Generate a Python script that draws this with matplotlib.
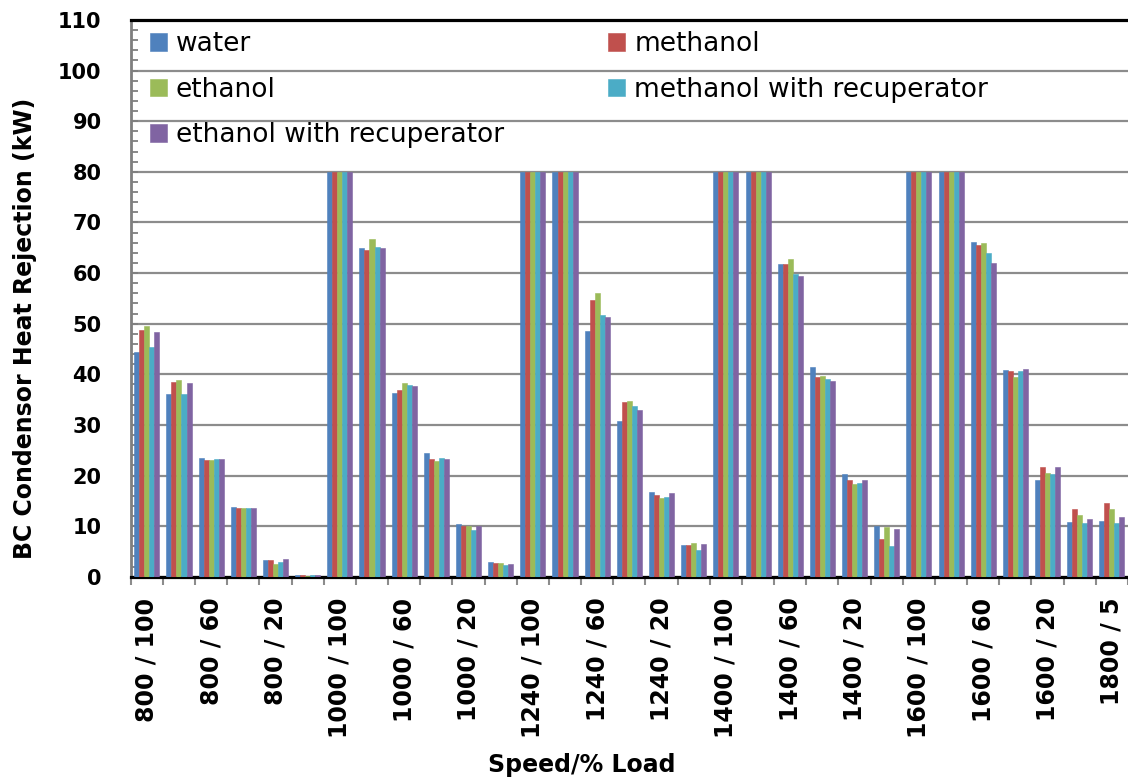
import matplotlib
matplotlib.use("Agg")
import matplotlib.pyplot as plt
import numpy as np

# speed / % load categories (only every second one is labelled on the axis)
categories = [
    "800 / 100", "800 / 80", "800 / 60", "800 / 40", "800 / 20", "800 / 5",
    "1000 / 100", "1000 / 80", "1000 / 60", "1000 / 40", "1000 / 20", "1000 / 5",
    "1240 / 100", "1240 / 80", "1240 / 60", "1240 / 40", "1240 / 20", "1240 / 5",
    "1400 / 100", "1400 / 80", "1400 / 60", "1400 / 40", "1400 / 20", "1400 / 5",
    "1600 / 100", "1600 / 80", "1600 / 60", "1600 / 40", "1600 / 20", "1600 / 10",
    "1800 / 5",
]

water = [44.4, 36.1, 23.45, 13.7, 3.4, 0.3,
         80, 64.9, 36.4, 24.4, 10.4, 3.0,
         80, 80, 48.6, 30.8, 16.8, 6.3,
         80, 80, 61.8, 41.4, 20.2, 10.1,
         80, 80, 66.05, 40.8, 19.2, 10.8,
         11.0]
methanol = [48.7, 38.4, 23.1, 13.5, 3.4, 0.3,
            80, 64.5, 36.9, 23.3, 10.1, 2.8,
            80, 80, 54.7, 34.5, 16.1, 6.2,
            80, 80, 61.8, 39.4, 19.2, 7.4,
            80, 80, 65.5, 40.6, 21.6, 13.4,
            14.6]
ethanol = [49.5, 38.9, 23.05, 13.5, 2.6, 0.2,
           80, 66.8, 38.3, 22.9, 10.1, 2.7,
           80, 80, 56.0, 34.7, 15.6, 6.6,
           80, 80, 62.8, 39.6, 18.4, 9.75,
           80, 80, 65.9, 39.5, 20.4, 12.2,
           13.4]
methanol_rec = [45.4, 36.1, 23.2, 13.5, 3.0, 0.3,
                80, 65.1, 37.9, 23.4, 9.2, 2.4,
                80, 80, 51.7, 33.7, 15.7, 5.3,
                80, 80, 59.9, 39.0, 18.6, 6.0,
                80, 80, 63.9, 40.7, 20.3, 10.7,
                10.6]
ethanol_rec = [48.4, 38.2, 23.2, 13.5, 3.56, 0.3,
               80, 64.9, 37.7, 23.2, 10.1, 2.6,
               80, 80, 51.3, 32.9, 16.5, 6.4,
               80, 80, 59.4, 38.6, 19.1, 9.5,
               80, 80, 62.0, 41.1, 21.7, 11.5,
               11.85]

series = [
    ("water", water, "#4F81BD"),
    ("methanol", methanol, "#C0504D"),
    ("ethanol", ethanol, "#9BBB59"),
    ("methanol with recuperator", methanol_rec, "#4BACC6"),
    ("ethanol with recuperator", ethanol_rec, "#8064A2"),
]

plt.rcParams["font.family"] = "DejaVu Sans"

fig = plt.figure(figsize=(11.28, 7.78), dpi=100)
ax = fig.add_axes([0.1159, 0.2587, 0.8841, 0.7156])

x = np.arange(len(categories))
w = 0.156
bars = {}
for k, (name, vals, col) in enumerate(series):
    bars[name] = ax.bar(x + (k - 2) * w, vals, w, color=col,
                        edgecolor=col, linewidth=0.4, label=name, zorder=3)

ax.set_xlim(-0.5, len(categories) - 0.5)
ax.set_ylim(0, 110)

# grid and spines
ax.set_axisbelow(True)
ax.yaxis.grid(True, color="#8c8c8c", linewidth=1.6)
ax.spines["right"].set_visible(False)
ax.spines["top"].set_color("black")
ax.spines["top"].set_linewidth(2.3)
ax.spines["bottom"].set_color("black")
ax.spines["bottom"].set_linewidth(2.3)
ax.spines["left"].set_color("#7f7f7f")
ax.spines["left"].set_linewidth(2.0)

# y axis
ax.set_yticks(np.arange(0, 111, 10))
ax.set_yticks(np.arange(0, 111, 2), minor=True)
ax.tick_params(axis="y", which="both", direction="in", length=5,
               width=1.3, color="#7f7f7f")
ax.tick_params(axis="y", which="major", pad=21, labelsize=15)
for t in ax.get_yticklabels():
    t.set_fontweight("bold")

# x axis
ax.set_xticks(x[::2])
ax.set_xticklabels(categories[::2], rotation=90, fontsize=17,
                   fontweight="bold", va="top", ha="center")
ax.set_xticks(np.arange(-0.5, len(categories), 1), minor=True)
ax.tick_params(axis="x", which="major", length=0, pad=15)
ax.tick_params(axis="x", which="minor", direction="out", length=6,
               width=1.5, color="#8c8c8c")

fig.text(0.0222, 0.578, "BC Condensor Heat Rejection (kW)", rotation=90,
         ha="center", va="center", fontsize=17, fontweight="bold")
fig.text(0.516, 0.0167, "Speed/% Load", ha="center", va="center",
         fontsize=17, fontweight="bold")

# legend laid out row-wise in two columns
order = ["water", "ethanol", "ethanol with recuperator",
         "methanol", "methanol with recuperator"]
ax.legend([bars[n] for n in order], order, ncol=2, loc="upper left",
          bbox_to_anchor=(0.0194, 0.980), frameon=False, fontsize=19,
          handlelength=0.64, handleheight=0.64, handletextpad=0.34,
          labelspacing=0.74, columnspacing=3.95, borderpad=0, borderaxespad=0)

fig.savefig("out.png", dpi=100)
